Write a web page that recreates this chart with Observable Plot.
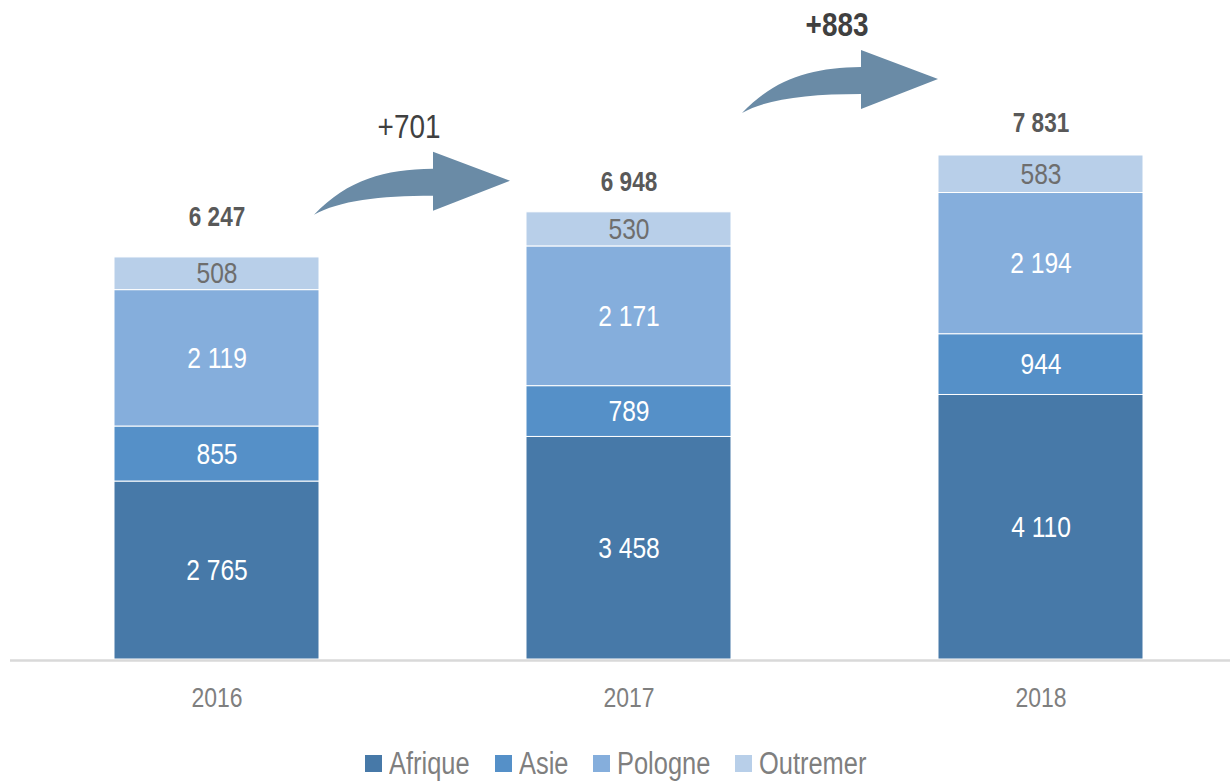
<!DOCTYPE html>
<html>
<head>
<meta charset="utf-8">
<script src="https://cdn.jsdelivr.net/npm/d3@7"></script>
<script src="https://cdn.jsdelivr.net/npm/@observablehq/plot@0.6"></script>
<style>
  html, body { margin: 0; padding: 0; background: #fff; }
  body { width: 1230px; height: 783px; overflow: hidden; font-family: "Liberation Sans Narrow", "Arial Narrow", "Liberation Sans", Arial, sans-serif; }
  #legend { display: flex; justify-content: center; align-items: center; height: 46px; margin-top: 3px; margin-left: 2px; }
  .item { display: flex; align-items: center; margin: 0 12.5px; }
  .sw { width: 17px; height: 17px; margin-right: 7px; flex: none; }
  .lab { font-size: 31px; color: #7f7f7f; line-height: 1; display: inline-block; white-space: nowrap; transform-origin: left center; }
</style>
</head>
<body>
<div id="chart"></div>
<div id="legend"></div>
<script>
// ---- data ----
const years = ["2016", "2017", "2018"];
const regions = ["Afrique", "Asie", "Pologne", "Outremer"];
const afrique = [2765, 3458, 4110];
const asie = [855, 789, 944];
const pologne = [2119, 2171, 2194];
const outremer = [508, 530, 583];
const totals = [6247, 6948, 7831];
const colors = ["#4779a8", "#5590c8", "#85aedc", "#b8cfe9"];

// layout
const totalDy = [-40, -30, -32];
const NARROW = 0.82;

const series = {Afrique: afrique, Asie: asie, Pologne: pologne, Outremer: outremer};
const rows = [];
years.forEach((yr, i) => regions.forEach(r => rows.push({year: yr, region: r, value: series[r][i]})));
const totalRows = years.map((yr, i) => ({year: yr, total: totals[i]}));

const fmt = d3.formatLocale({thousands: " ", grouping: [3], decimal: ",", currency: ["", ""]}).format(",");
const FONT = '"Liberation Sans Narrow", "Arial Narrow", "Liberation Sans", Arial, sans-serif';

const stackOpts = {x: "year", y: "value", z: "region", order: regions};

const plot = Plot.plot({
  width: 1230,
  height: 737,
  marginLeft: 30.5,
  marginRight: 4.5,
  marginTop: 15.4,
  marginBottom: 78,
  style: {fontFamily: FONT, background: "white"},
  x: {domain: years, paddingInner: 0.503, paddingOuter: 0.2, label: null},
  y: {domain: [0, 10000], axis: null},
  color: {domain: regions, range: colors},
  marks: [
    Plot.barY(rows, {...stackOpts, fill: "region", stroke: "white", strokeWidth: 1}),
    Plot.ruleY([0], {stroke: "#d9d9d9", strokeWidth: 2.5, insetLeft: -20.5, insetRight: -4.5, dy: 1}),
    Plot.axisX({tickSize: 0, tickPadding: 28, fontSize: 28, fill: "#7f7f7f", label: null}),
    Plot.text(rows.filter(d => d.region !== "Outremer"), Plot.stackY({...stackOpts, text: d => fmt(d.value), fill: "white", fontSize: 30})),
    Plot.text(rows, Plot.stackY({...stackOpts, text: d => d.region === "Outremer" ? fmt(d.value) : "", fill: "#6e6e6e", fontSize: 30})),
    ...totalRows.map((d, i) => Plot.text([d], {x: "year", y: "total", text: t => fmt(t.total), fill: "#595959", fontWeight: "bold", fontSize: 27.5, dy: totalDy[i]}))
  ]
});
document.getElementById("chart").appendChild(plot);

// ---- arrows with deltas between consecutive totals ----
const xs = plot.scale("x"), ys = plot.scale("y");
const svg = d3.select(plot);
const arrowLayout = [{dx: -108.5, dy: 3}, {dx: -92.5, dy: -42}];
for (let i = 0; i < years.length - 1; i++) {
  const gapMid = (xs.apply(years[i]) + xs.bandwidth + xs.apply(years[i + 1])) / 2;
  const tx = gapMid + arrowLayout[i].dx;
  const ty = ys.apply(totals[i + 1]) + arrowLayout[i].dy;
  const p = d3.path();
  p.moveTo(tx, ty);
  p.bezierCurveTo(tx + 35, ty - 36, tx + 70, ty - 45, tx + 119, ty - 46);
  p.lineTo(tx + 119, ty - 63);
  p.lineTo(tx + 196, ty - 34);
  p.lineTo(tx + 119, ty - 4);
  p.lineTo(tx + 119, ty - 19);
  p.bezierCurveTo(tx + 65, ty - 19, tx + 25, ty - 14, tx, ty);
  p.closePath();
  svg.append("path").attr("d", p.toString()).attr("fill", "#6a8ba6");
  svg.append("text")
    .attr("x", tx + 95).attr("y", ty - 89)
    .attr("text-anchor", "middle").attr("dy", "0.35em")
    .attr("font-family", FONT).attr("font-size", 34)
    .attr("font-weight", i === 1 ? "bold" : "normal")
    .attr("fill", "#404040")
    .text("+" + fmt(totals[i + 1] - totals[i]));
}

// condense text horizontally to mimic a narrow typeface
plot.querySelectorAll("text").forEach(t => {
  if (!t.textContent) return;
  const len = t.getComputedTextLength();
  if (len > 0) {
    t.setAttribute("textLength", (len * NARROW).toFixed(2));
    t.setAttribute("lengthAdjust", "spacingAndGlyphs");
  }
});

// ---- legend ----
const legend = d3.select("#legend");
regions.forEach((r, i) => {
  const it = legend.append("div").attr("class", "item");
  it.append("div").attr("class", "sw").style("background", colors[i]);
  const wrap = it.append("span").style("display", "inline-block").style("overflow", "visible");
  const lab = wrap.append("span").attr("class", "lab").text(r);
  const w = lab.node().getBoundingClientRect().width;
  wrap.style("width", (w * NARROW) + "px");
  lab.style("transform", `scaleX(${NARROW})`);
});
</script>
</body>
</html>
